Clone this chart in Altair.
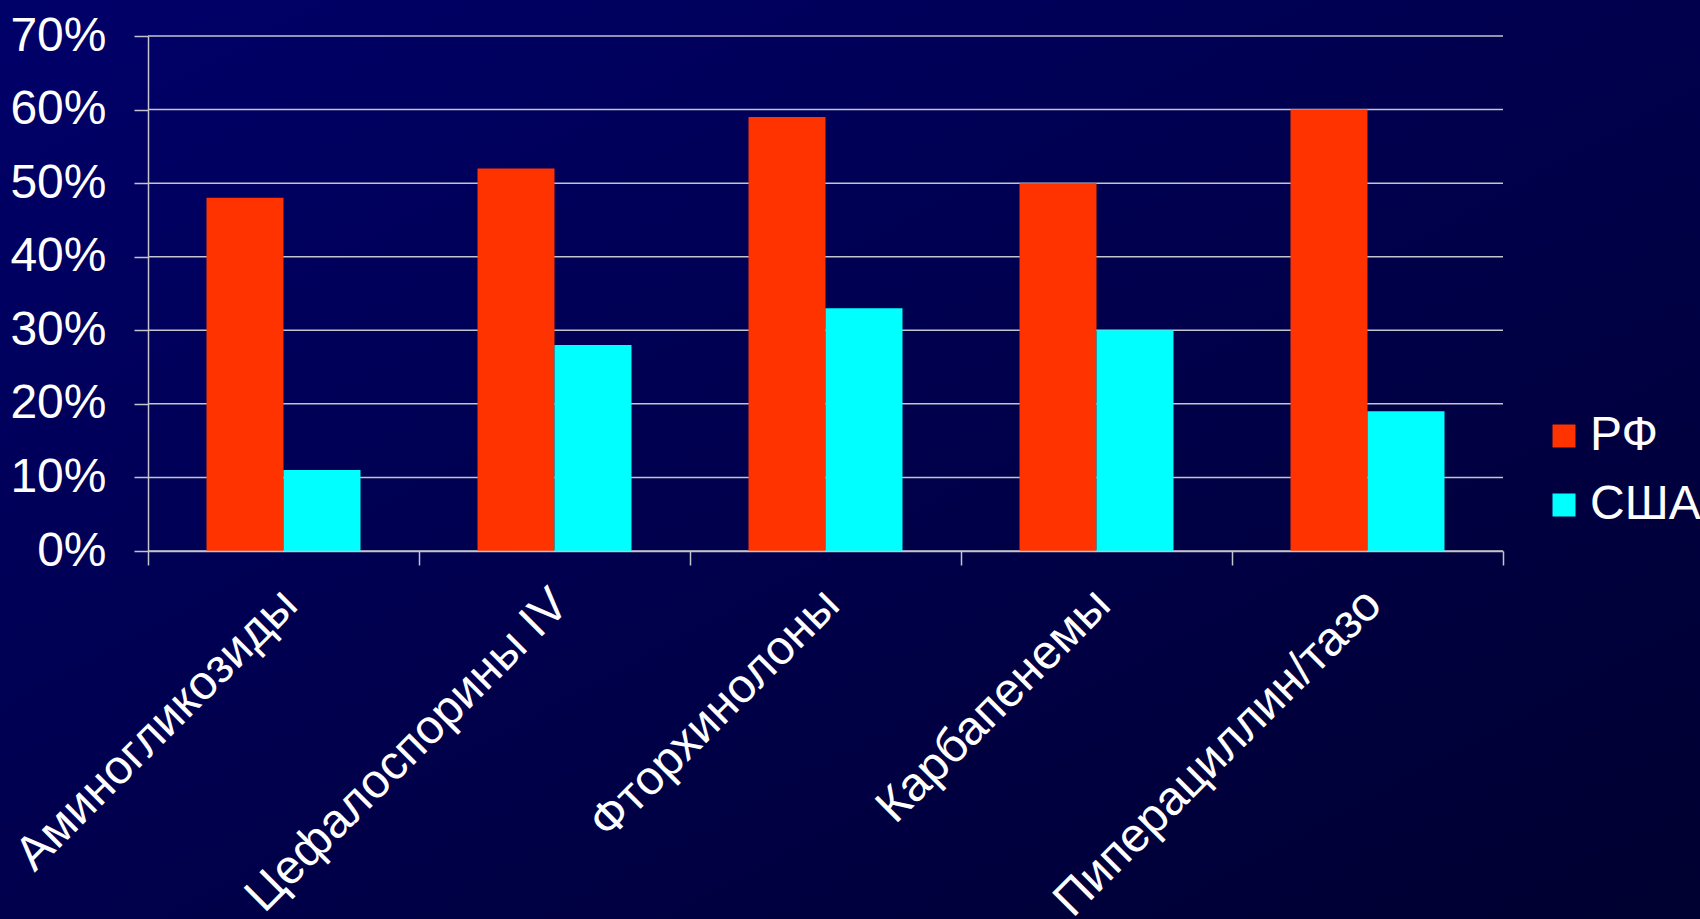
import altair as alt
import pandas as pd

categories = ["Аминогликозиды", "Цефалоспорины IV", "Фторхинолоны", "Карбапенемы", "Пиперациллин/тазо"]
series_names = ["РФ", "США"]
rf_values = [0.48, 0.52, 0.59, 0.50, 0.60]
usa_values = [0.11, 0.28, 0.33, 0.30, 0.19]
y_ticks = [0, 0.1, 0.2, 0.3, 0.4, 0.5, 0.6, 0.7]

rows = []
for c, v in zip(categories, rf_values):
    rows.append({"cat": c, "series": series_names[0], "value": v})
for c, v in zip(categories, usa_values):
    rows.append({"cat": c, "series": series_names[1], "value": v})
df = pd.DataFrame(rows)
grid_df = pd.DataFrame({"value": y_ticks})

FONT = "Liberation Sans"
LINE = "#c4c4cc"
FS = 48

y_scale = alt.Scale(domain=[0, 0.7], nice=False)
y_axis = alt.Axis(values=y_ticks, format=".0%", labelFontSize=FS, labelFont=FONT,
                  labelColor="white", labelPadding=28, tickSize=14,
                  tickColor=LINE, tickWidth=1.5, domainColor=LINE, domainWidth=1.5,
                  grid=False, zindex=1)

bg = alt.Chart(alt.Data(values=[{}])).mark_rect(
    clip=False,
    fill=alt.Gradient(
        gradient="linear",
        stops=[alt.GradientStop(color="#00006a", offset=0),
               alt.GradientStop(color="#000030", offset=1)],
        x1=0, y1=0, x2=1, y2=1,
    ),
).encode(x=alt.value(-148), x2=alt.value(1552), y=alt.value(-36), y2=alt.value(883))

grid = alt.Chart(grid_df).mark_rule(color=LINE, strokeWidth=1.5).encode(
    y=alt.Y("value:Q", title=None, scale=y_scale, axis=y_axis),
    x=alt.value(0), x2=alt.value("width"),
)

bars = alt.Chart(df).mark_bar().encode(
    x=alt.X("cat:N", sort=categories, title=None,
            scale=alt.Scale(paddingInner=0, paddingOuter=0),
            axis=alt.Axis(labelAngle=-45, labelAlign="right", labelBaseline="middle",
                          labelFontSize=FS, labelFont=FONT, labelColor="white",
                          labelPadding=32, labelOffset=6, tickBand="extent",
                          tickSize=14, tickColor=LINE, tickWidth=1.5,
                          domainColor=LINE, domainWidth=1.5, grid=False,
                          labelOverlap=False, labelLimit=0, zindex=1)),
    xOffset=alt.XOffset("series:N", sort=series_names,
                        scale=alt.Scale(paddingInner=0, paddingOuter=0.76)),
    y=alt.Y("value:Q", title=None, scale=y_scale, axis=y_axis),
    color=alt.Color("series:N", sort=series_names, title=None,
                    scale=alt.Scale(domain=series_names, range=["#ff3300", "#00ffff"]),
                    legend=alt.Legend(orient="none", legendX=1392, legendY=376,
                                      symbolType="square", symbolSize=529,
                                      symbolStrokeWidth=0, symbolOpacity=1,
                                      labelFontSize=FS, labelFont=FONT, labelColor="white",
                                      labelOffset=2, rowPadding=21, padding=0)),
)

chart = alt.layer(bg, grid, bars).properties(
    width=1355, height=515,
    autosize=alt.AutoSizeParams(type="none"),
    padding={"left": 148, "top": 36, "right": 197, "bottom": 368},
    background="#000055",
).configure_view(strokeWidth=0)

chart.save("out.html", embed_options={"renderer": "svg", "actions": False})
